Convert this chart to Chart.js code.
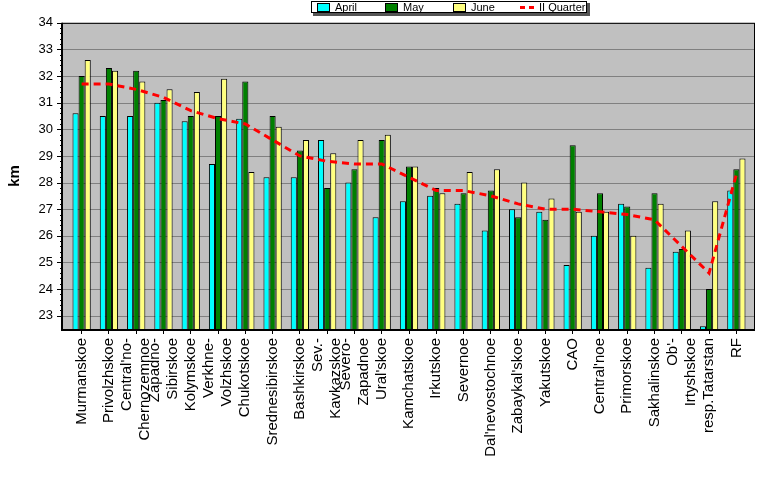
<!DOCTYPE html>
<html>
<head>
    <title></title>
    <script src="https://cdn.jsdelivr.net/npm/chart.js@4/dist/chart.umd.min.js"></script>
    <style>
        body { margin: 0; background: #fff; }
    </style>
</head>

<body>
    <div id="canvas-holder" style="width:777px;height:479px">
        <canvas id="chart-area" width="777" height="479"></canvas>
    </div>

    <script>
		// regions (two-line labels where the original wraps them)
		var regions = [
			'Murmanskoe', 'Privolzhskoe', ["Central'no-", 'Chernozemnoe'], ['Zapadno-', 'Sibirskoe'],
			'Kolymskoe', ['Verkhne-', 'Volzhskoe'], 'Chukotskoe', 'Srednesibirskoe', 'Bashkirskoe',
			['Sev.-', 'Kavkazskoe'], ['Severo-', 'Zapadnoe'], "Ural'skoe", 'Kamchatskoe', 'Irkutskoe',
			'Severnoe', "Dal'nevostochnoe", "Zabaykal'skoe", 'Yakutskoe', 'CAO', "Central'noe",
			'Primorskoe', 'Sakhalinskoe', ["Ob'-", 'Irtyshskoe'], 'resp.Tatarstan', 'RF'
		];

		var april = [30.6, 30.5, 30.5, 31.0, 30.3, 28.7, 30.4, 28.2, 28.2, 29.6, 28.0, 26.7, 27.3,
			27.5, 27.2, 26.2, 27.0, 26.9, 24.9, 26.0, 27.2, 24.8, 25.4, 22.6, 27.7];
		var may = [32.0, 32.3, 32.2, 31.1, 30.5, 30.5, 31.8, 30.5, 29.2, 27.8, 28.5, 29.6, 28.6,
			27.8, 27.6, 27.7, 26.7, 26.6, 29.4, 27.6, 27.1, 27.6, 25.5, 24.0, 28.5];
		var june = [32.6, 32.2, 31.8, 31.5, 31.4, 31.9, 28.4, 30.1, 29.6, 29.1, 29.6, 29.8, 28.6,
			27.6, 28.4, 28.5, 28.0, 27.4, 26.9, 26.9, 26.0, 27.2, 26.2, 27.3, 28.9];
		var quarter = [31.7, 31.7, 31.5, 31.2, 30.7, 30.4, 30.2, 29.6, 29.0, 28.8, 28.7, 28.7, 28.2,
			27.7, 27.7, 27.5, 27.2, 27.0, 27.0, 26.9, 26.8, 26.6, 25.6, 24.6, 28.3];

		var yMin = 22.5;
		var yMax = 34;
		var FONT = "'Liberation Sans', Arial, sans-serif";

		// grey plot box, gridlines, axis lines, minor ticks
		var plotBox = {
			id: 'plotBox',
			beforeDraw: function(chart) {
				// centre two-line category labels on their tick, like the original
				var sc = chart.scales.x;
				sc.getLabelItems().forEach(function(it) {
					if (Array.isArray(it.label) && !it._moved) {
						it.options.translation[0] -= (it.label.length - 1) * 9;
						it._moved = true;
					}
				});
			},
			beforeDatasetsDraw: function(chart) {
				var c = chart.ctx, ca = chart.chartArea, y = chart.scales.y;
				var l = ca.left - 6, r = ca.right + 4;
				c.save();
				c.fillStyle = '#c0c0c0';
				c.fillRect(l, ca.top, r - l, ca.bottom - ca.top);
				c.strokeStyle = '#808080';
				c.lineWidth = 1;
				y.ticks.forEach(function(t) {
					var py = Math.round(y.getPixelForValue(t.value)) + 0.5;
					c.beginPath();
					c.moveTo(l, py);
					c.lineTo(r, py);
					c.stroke();
				});
				c.restore();
			},
			afterDatasetsDraw: function(chart) {
				var c = chart.ctx, ca = chart.chartArea, y = chart.scales.y;
				var l = ca.left - 6, r = ca.right + 4;
				c.save();
				c.strokeStyle = '#000';
				c.lineWidth = 1;
				c.strokeRect(l + 0.5, ca.top + 0.5, r - l, ca.bottom - ca.top);
				c.lineWidth = 2;
				c.beginPath();
				c.moveTo(l, ca.top);
				c.lineTo(l, ca.bottom + 1);
				c.lineTo(r + 1, ca.bottom + 1);
				c.stroke();
				// major and minor ticks on the value axis
				c.lineWidth = 1;
				for (var v = 23; v <= yMax + 0.001; v += 0.2) {
					var py = Math.round(y.getPixelForValue(v)) + 0.5;
					var major = Math.abs(v - Math.round(v)) < 0.01;
					c.beginPath();
					c.moveTo(l - (major ? 5 : 2), py);
					c.lineTo(l, py);
					c.stroke();
				}
				c.restore();
			}
		};

		// boxed legend at the top, as in the original
		var boxLegend = {
			id: 'boxLegend',
			afterDraw: function(chart) {
				var c = chart.ctx;
				var ds = chart.data.datasets;
				var xs = [317, 385, 453, 520];
				c.save();
				c.fillStyle = '#555';
				c.fillRect(313, 3, 277, 13);
				c.fillStyle = '#fff';
				c.fillRect(311, 1, 276, 12);
				c.strokeStyle = '#000';
				c.lineWidth = 1;
				c.strokeRect(311.5, 1.5, 275, 11);
				c.font = '11px ' + FONT;
				c.textBaseline = 'middle';
				ds.forEach(function(d, i) {
					var x = xs[i];
					if (d.type === 'line') {
						c.strokeStyle = d.borderColor;
						c.lineWidth = 3;
						c.setLineDash([5, 4]);
						c.beginPath();
						c.moveTo(x, 7.5);
						c.lineTo(x + 17, 7.5);
						c.stroke();
						c.setLineDash([]);
					} else {
						c.fillStyle = d.backgroundColor;
						c.fillRect(x, 3, 13, 9);
						c.strokeStyle = '#000';
						c.lineWidth = 1;
						c.strokeRect(x + 0.5, 3.5, 12, 8);
					}
					c.fillStyle = '#000';
					c.fillText(d.label, x + (d.type === 'line' ? 19 : 18), 7.5);
				});
				c.restore();
			}
		};

		var config = {
			type: 'bar',
			data: {
				labels: regions,
				datasets: [{
					label: 'April',
					data: april,
					backgroundColor: '#00ffff',
					order: 1
				}, {
					label: 'May',
					data: may,
					backgroundColor: '#008000',
					order: 1
				}, {
					label: 'June',
					data: june,
					backgroundColor: '#ffff80',
					order: 1
				}, {
					type: 'line',
					label: 'II Quarter',
					data: quarter,
					borderColor: '#ff0000',
					backgroundColor: '#ff0000',
					borderWidth: 3,
					borderDash: [7, 5],
					pointRadius: 0,
					tension: 0,
					fill: false,
					order: 0
				}]
			},
			options: {
				responsive: false,
				animation: false,
				layout: { padding: { left: 0, right: 27, top: 19, bottom: 0 } },
				datasets: {
					bar: {
						base: yMin,
						borderColor: '#000',
						borderWidth: 1,
						categoryPercentage: 0.67,
						barPercentage: 1
					}
				},
				plugins: {
					legend: { display: false },
					tooltip: { enabled: false }
				},
				scales: {
					x: {
						offset: true,
						grid: { offset: false, drawOnChartArea: false, tickLength: 5, color: '#000' },
						border: { display: false },
						ticks: {
							autoSkip: false,
							minRotation: 90,
							maxRotation: 90,
							padding: 4,
							color: '#000',
							font: { family: FONT, size: 15 }
						},
						afterFit: function(s) { s.height = 150; }
					},
					y: {
						min: yMin,
						max: yMax,
						grid: { display: false, drawTicks: false },
						border: { display: false },
						ticks: {
							stepSize: 1,
							includeBounds: false,
							padding: 15,
							color: '#000',
							font: { family: FONT, size: 13 }
						},
						title: {
							display: true,
							text: 'km',
							color: '#000',
							font: { family: FONT, size: 15, weight: 'bold' },
							padding: { top: 6, bottom: 0 }
						},
						afterFit: function(s) { s.width = 68; }
					}
				}
			},
			plugins: [plotBox, boxLegend]
		};

		window.onload = function() {
			var ctx = document.getElementById('chart-area').getContext('2d');
			window.myChart = new Chart(ctx, config);
		};
    </script>
</body>
</html>
